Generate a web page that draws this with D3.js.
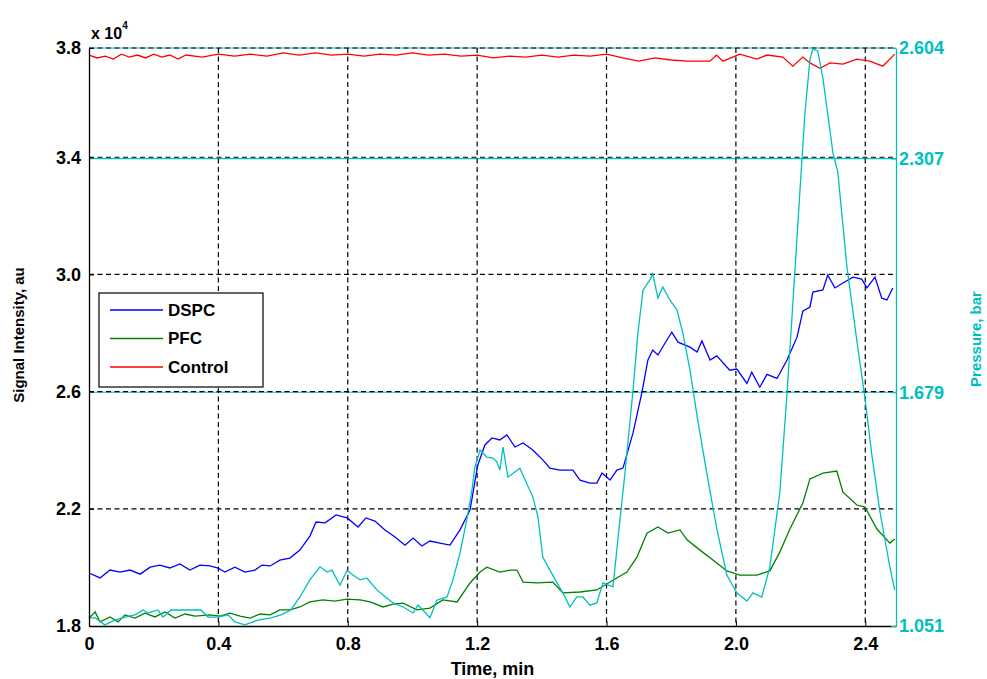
<!DOCTYPE html>
<html>
<head>
<meta charset="utf-8">
<script src="https://cdn.jsdelivr.net/npm/d3@7"></script>
<style>
  body { margin: 0; background: #fff; }
  text { font-family: "Liberation Sans", Arial, sans-serif; font-weight: bold; }
</style>
</head>
<body>
<div id="chart"></div>
<script>
// signal values are in units of 10^4 au, time in min
const dspcTime = [0, 0.034, 0.065, 0.096, 0.127, 0.158, 0.189, 0.219, 0.25, 0.281, 0.312, 0.343, 0.374, 0.399, 0.42, 0.451, 0.482, 0.513, 0.535, 0.56, 0.59, 0.621, 0.652, 0.683, 0.702, 0.73, 0.764, 0.798, 0.832, 0.856, 0.884, 0.915, 0.946, 0.977, 1.002, 1.029, 1.054, 1.085, 1.116, 1.147, 1.178, 1.202, 1.224, 1.246, 1.27, 1.292, 1.317, 1.342, 1.372, 1.403, 1.425, 1.456, 1.496, 1.518, 1.549, 1.57, 1.586, 1.611, 1.632, 1.651, 1.682, 1.709, 1.728, 1.743, 1.759, 1.781, 1.802, 1.821, 1.858, 1.88, 1.895, 1.92, 1.941, 1.981, 2.003, 2.034, 2.049, 2.074, 2.096, 2.127, 2.158, 2.189, 2.207, 2.229, 2.238, 2.269, 2.284, 2.306, 2.331, 2.362, 2.389, 2.405, 2.43, 2.451, 2.467, 2.485]
const dspcSignal = [1.981, 1.964, 1.991, 1.984, 1.991, 1.977, 2.001, 2.008, 1.998, 2.012, 1.991, 2.008, 2.005, 1.998, 1.984, 2.001, 1.984, 1.991, 2.008, 2.005, 2.025, 2.032, 2.059, 2.107, 2.155, 2.152, 2.179, 2.169, 2.138, 2.169, 2.158, 2.128, 2.104, 2.076, 2.1, 2.073, 2.09, 2.083, 2.076, 2.128, 2.196, 2.349, 2.418, 2.442, 2.435, 2.452, 2.411, 2.425, 2.401, 2.367, 2.339, 2.332, 2.332, 2.298, 2.288, 2.288, 2.322, 2.298, 2.332, 2.339, 2.459, 2.595, 2.708, 2.742, 2.725, 2.766, 2.803, 2.769, 2.752, 2.735, 2.773, 2.708, 2.722, 2.673, 2.677, 2.628, 2.666, 2.615, 2.659, 2.645, 2.708, 2.786, 2.875, 2.889, 2.94, 2.947, 2.998, 2.954, 2.971, 2.991, 2.984, 2.954, 2.991, 2.919, 2.913, 2.954]

const pfcTime = [0, 0.019, 0.034, 0.065, 0.09, 0.111, 0.142, 0.173, 0.204, 0.235, 0.266, 0.297, 0.328, 0.374, 0.405, 0.436, 0.467, 0.498, 0.529, 0.56, 0.59, 0.621, 0.652, 0.683, 0.723, 0.76, 0.798, 0.838, 0.869, 0.909, 0.94, 0.971, 1.014, 1.054, 1.094, 1.138, 1.178, 1.209, 1.23, 1.27, 1.301, 1.323, 1.342, 1.385, 1.434, 1.465, 1.518, 1.57, 1.611, 1.663, 1.694, 1.725, 1.759, 1.79, 1.827, 1.849, 1.889, 1.941, 1.972, 2.012, 2.065, 2.105, 2.136, 2.167, 2.207, 2.229, 2.269, 2.312, 2.331, 2.374, 2.399, 2.436, 2.476, 2.491]
const pfcSignal = [1.827, 1.848, 1.814, 1.831, 1.814, 1.838, 1.827, 1.844, 1.831, 1.848, 1.827, 1.841, 1.834, 1.838, 1.834, 1.844, 1.834, 1.827, 1.841, 1.838, 1.855, 1.855, 1.865, 1.882, 1.889, 1.885, 1.892, 1.889, 1.882, 1.865, 1.875, 1.878, 1.855, 1.861, 1.889, 1.882, 1.947, 1.984, 2.001, 1.984, 1.991, 1.991, 1.95, 1.947, 1.95, 1.913, 1.916, 1.923, 1.95, 1.984, 2.035, 2.117, 2.138, 2.117, 2.128, 2.094, 2.059, 2.015, 1.988, 1.974, 1.974, 1.988, 2.053, 2.131, 2.22, 2.302, 2.322, 2.329, 2.257, 2.213, 2.206, 2.131, 2.083, 2.097]

const controlTime = [0, 0.025, 0.05, 0.075, 0.1, 0.125, 0.15, 0.175, 0.2, 0.225, 0.25, 0.275, 0.3, 0.35, 0.4, 0.45, 0.5, 0.55, 0.6, 0.65, 0.7, 0.75, 0.8, 0.85, 0.9, 0.95, 1.0, 1.05, 1.1, 1.15, 1.2, 1.25, 1.3, 1.35, 1.4, 1.45, 1.5, 1.55, 1.6, 1.65, 1.7, 1.75, 1.8, 1.85, 1.92, 1.94, 1.96, 2.012, 2.065, 2.096, 2.145, 2.176, 2.207, 2.229, 2.26, 2.291, 2.331, 2.374, 2.414, 2.454, 2.491]
const controlSignal = [3.749, 3.739, 3.745, 3.735, 3.752, 3.742, 3.749, 3.739, 3.752, 3.742, 3.749, 3.735, 3.749, 3.742, 3.752, 3.745, 3.752, 3.745, 3.756, 3.749, 3.756, 3.749, 3.752, 3.745, 3.752, 3.749, 3.756, 3.749, 3.752, 3.745, 3.749, 3.739, 3.745, 3.742, 3.749, 3.742, 3.749, 3.745, 3.752, 3.739, 3.728, 3.739, 3.732, 3.728, 3.728, 3.749, 3.728, 3.752, 3.735, 3.749, 3.742, 3.711, 3.742, 3.722, 3.704, 3.722, 3.718, 3.735, 3.728, 3.711, 3.752]

const pressureTime = [0, 0.019, 0.049, 0.08, 0.111, 0.142, 0.167, 0.182, 0.213, 0.229, 0.253, 0.297, 0.346, 0.368, 0.399, 0.43, 0.451, 0.482, 0.522, 0.563, 0.594, 0.624, 0.652, 0.683, 0.714, 0.736, 0.751, 0.767, 0.776, 0.798, 0.816, 0.838, 0.859, 0.89, 0.909, 0.94, 0.971, 1.002, 1.017, 1.032, 1.054, 1.076, 1.107, 1.125, 1.147, 1.168, 1.184, 1.193, 1.209, 1.23, 1.249, 1.261, 1.27, 1.28, 1.295, 1.332, 1.372, 1.388, 1.403, 1.425, 1.447, 1.465, 1.487, 1.508, 1.527, 1.549, 1.57, 1.589, 1.62, 1.635, 1.657, 1.682, 1.697, 1.713, 1.734, 1.743, 1.759, 1.774, 1.796, 1.818, 1.836, 1.858, 1.88, 1.91, 1.941, 1.972, 2.003, 2.034, 2.053, 2.08, 2.105, 2.136, 2.158, 2.176, 2.198, 2.213, 2.229, 2.238, 2.253, 2.269, 2.3, 2.315, 2.343, 2.374, 2.399, 2.42, 2.445, 2.476, 2.491]
const pressureBar = [1.073, 1.073, 1.054, 1.067, 1.075, 1.081, 1.094, 1.086, 1.094, 1.075, 1.094, 1.094, 1.094, 1.075, 1.075, 1.081, 1.062, 1.054, 1.067, 1.073, 1.081, 1.094, 1.129, 1.175, 1.21, 1.196, 1.201, 1.175, 1.161, 1.201, 1.188, 1.175, 1.18, 1.148, 1.134, 1.113, 1.102, 1.086, 1.107, 1.094, 1.073, 1.121, 1.129, 1.175, 1.247, 1.336, 1.416, 1.478, 1.524, 1.505, 1.502, 1.492, 1.47, 1.532, 1.451, 1.475, 1.398, 1.344, 1.236, 1.201, 1.167, 1.14, 1.102, 1.129, 1.129, 1.107, 1.113, 1.167, 1.156, 1.282, 1.462, 1.685, 1.838, 1.954, 1.981, 1.997, 1.932, 1.962, 1.927, 1.9, 1.838, 1.739, 1.615, 1.462, 1.312, 1.188, 1.14, 1.118, 1.14, 1.129, 1.21, 1.411, 1.674, 1.916, 2.22, 2.424, 2.574, 2.601, 2.596, 2.523, 2.322, 2.271, 2.018, 1.817, 1.664, 1.513, 1.36, 1.21, 1.148]

const timeTicks = [0, 0.4, 0.8, 1.2, 1.6, 2.0, 2.4]
const signalTicks = [1.8, 2.2, 2.6, 3.0, 3.4, 3.773]
const pressureTicks = [1.051, 1.679, 2.307, 2.604]

const seriesNames = ['DSPC', 'PFC', 'Control']
const seriesColors = ['#0000ff', '#008000', '#ff0000']
const cyan = '#00bfbf'

const margin = { top: 48, left: 89, right: 91, bottom: 53 }
const width = 987 - margin.left - margin.right
const height = 679 - margin.top - margin.bottom

const svg = d3
  .select('#chart')
  .append('svg')
  .attr('width', 987)
  .attr('height', 679)
  .append('g')
  .attr('transform', 'translate(' + margin.left + ',' + margin.top + ')')

const xScale = d3.scaleLinear().domain([0, 2.495]).range([0, width])
const yLeft = d3.scaleLinear().domain([1.8, 3.773]).range([height, 0])
const yRight = d3.scaleLinear().domain([1.051, 2.604]).range([height, 0])

svg
  .append('rect')
  .attr('width', width)
  .attr('height', height)
  .attr('fill', '#fff')

// cyan grid of the right axis, under the black dashes
svg
  .selectAll('.grid-right')
  .data(pressureTicks.slice(1))
  .enter()
  .append('line')
  .attr('x1', 0)
  .attr('x2', width)
  .attr('y1', d => yRight(d))
  .attr('y2', d => yRight(d))
  .attr('stroke', cyan)
  .attr('stroke-width', 1.2)

svg
  .selectAll('.grid-y')
  .data(signalTicks.slice(1))
  .enter()
  .append('line')
  .attr('x1', 0)
  .attr('x2', width)
  .attr('y1', d => yLeft(d))
  .attr('y2', d => yLeft(d))
  .attr('stroke', '#000')
  .attr('stroke-width', 1.2)
  .attr('stroke-dasharray', '5,3.5')

svg
  .selectAll('.grid-x')
  .data(timeTicks.slice(1))
  .enter()
  .append('line')
  .attr('x1', d => xScale(d))
  .attr('x2', d => xScale(d))
  .attr('y1', 0)
  .attr('y2', height)
  .attr('stroke', '#000')
  .attr('stroke-width', 1.2)
  .attr('stroke-dasharray', '5,3.5')

const lineLeft = d3
  .line()
  .x(d => xScale(d[0]))
  .y(d => yLeft(d[1]))

const lineRight = d3
  .line()
  .x(d => xScale(d[0]))
  .y(d => yRight(d[1]))

const leftSeries = [
  d3.zip(dspcTime, dspcSignal),
  d3.zip(pfcTime, pfcSignal),
  d3.zip(controlTime, controlSignal)
]

svg
  .selectAll('.series')
  .data(leftSeries)
  .enter()
  .append('path')
  .attr('d', lineLeft)
  .attr('fill', 'none')
  .attr('stroke', (d, i) => seriesColors[i])
  .attr('stroke-width', 1.3)

svg
  .append('path')
  .datum(d3.zip(pressureTime, pressureBar))
  .attr('d', lineRight)
  .attr('fill', 'none')
  .attr('stroke', cyan)
  .attr('stroke-width', 1.3)

// axes
const leftAxis = d3
  .axisLeft(yLeft)
  .tickValues(signalTicks)
  .tickFormat(d3.format('.1f'))
  .tickSizeInner(-5)
  .tickSizeOuter(0)
  .tickPadding(8)

const gLeft = svg.append('g').call(leftAxis)
gLeft.select('.domain').attr('stroke', '#000').attr('stroke-width', 1.3)

const bottomAxis = d3
  .axisBottom(xScale)
  .tickValues(timeTicks)
  .tickFormat(d => (d === 0 ? '0' : d3.format('.1f')(d)))
  .tickSizeInner(-5)
  .tickSizeOuter(0)
  .tickPadding(11)

const gBottom = svg
  .append('g')
  .attr('transform', 'translate(0,' + height + ')')
  .call(bottomAxis)
gBottom.select('.domain').attr('stroke', '#000').attr('stroke-width', 1.3)

const rightAxis = d3
  .axisRight(yRight)
  .tickValues(pressureTicks)
  .tickFormat(d3.format('.3f'))
  .tickSizeInner(-5)
  .tickSizeOuter(0)
  .tickPadding(3)

const gRight = svg
  .append('g')
  .attr('transform', 'translate(' + width + ',0)')
  .call(rightAxis)
gRight.select('.domain').attr('stroke', cyan).attr('stroke-width', 1.3)
gRight.selectAll('.tick line').attr('stroke', cyan)

svg.selectAll('.tick text').attr('font-size', 18).attr('font-family', '"Liberation Sans", Arial, sans-serif').attr('font-weight', 'bold')
gRight.selectAll('.tick text').attr('fill', cyan)
gLeft.selectAll('.tick text').attr('fill', '#000')
gBottom.selectAll('.tick text').attr('fill', '#000')

// axis titles
svg
  .append('text')
  .attr('x', width / 2)
  .attr('y', height + 49)
  .attr('text-anchor', 'middle')
  .attr('font-size', 18)
  .text('Time, min')

svg
  .append('text')
  .attr('transform', 'translate(' + (-65) + ',' + (height / 2 - 2) + ') rotate(-90)')
  .attr('text-anchor', 'middle')
  .attr('font-size', 15)
  .text('Signal Intensity, au')

svg
  .append('text')
  .attr('transform', 'translate(' + (width + 85) + ',' + (height / 2 + 2) + ') rotate(-90)')
  .attr('text-anchor', 'middle')
  .attr('font-size', 15)
  .attr('fill', cyan)
  .text('Pressure, bar')

const expo = svg.append('text').attr('x', 2).attr('y', -9).attr('font-size', 16)
expo.append('tspan').text('x 10')
expo.append('tspan').attr('font-size', 10).attr('dy', -10).text('4')

// legend
const legend = svg.append('g').attr('transform', 'translate(10,245)')

legend
  .append('rect')
  .attr('width', 164)
  .attr('height', 94)
  .attr('fill', '#fff')
  .attr('stroke', '#000')
  .attr('stroke-width', 1.2)

const entries = legend
  .selectAll('.entry')
  .data(seriesNames)
  .enter()
  .append('g')
  .attr('transform', (d, i) => 'translate(0,' + (17 + i * 28.5) + ')')

entries
  .append('line')
  .attr('x1', 11)
  .attr('x2', 64)
  .attr('stroke', (d, i) => seriesColors[i])
  .attr('stroke-width', 1.5)

entries
  .append('text')
  .attr('x', 69)
  .attr('dy', '0.35em')
  .attr('font-size', 17)
  .text(d => d)
</script>
</body>
</html>
